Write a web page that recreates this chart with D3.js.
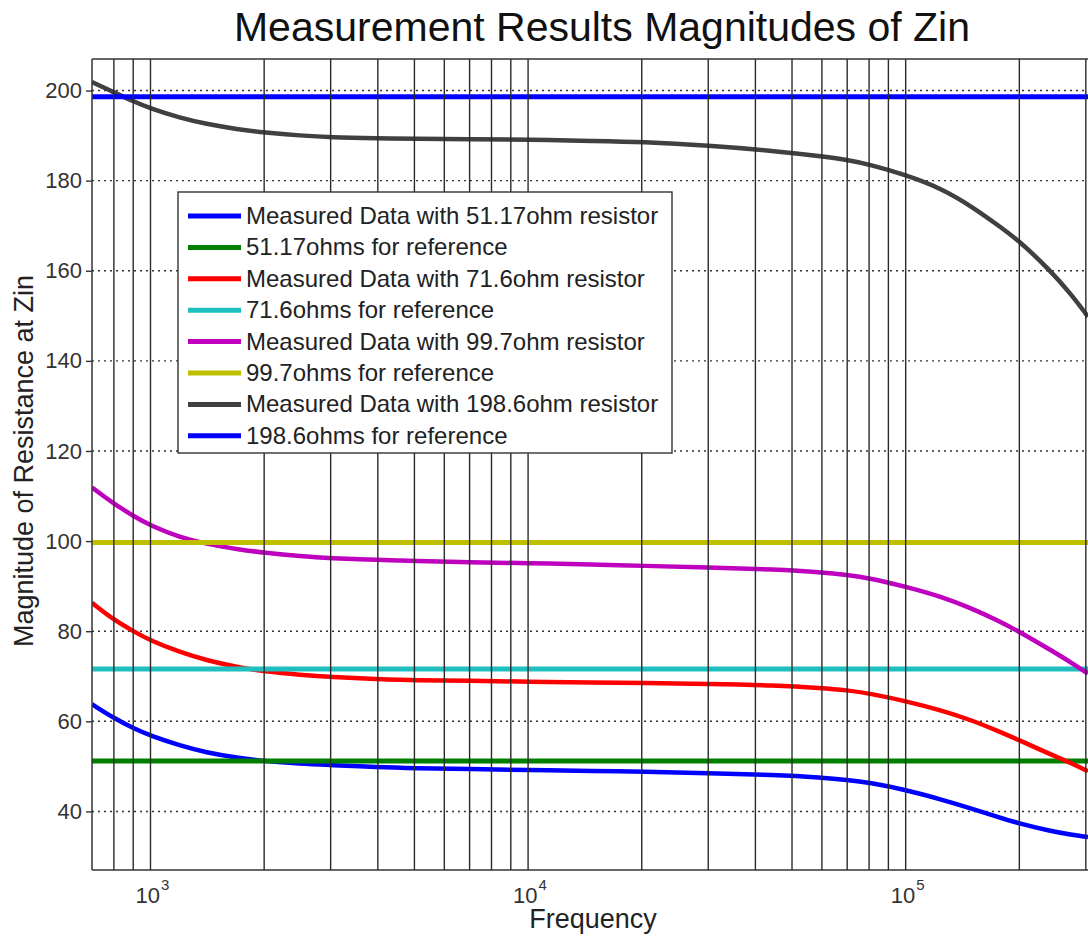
<!DOCTYPE html>
<html>
<head>
<meta charset="utf-8">
<script src="https://cdn.jsdelivr.net/npm/d3@7"></script>
<style>
  html, body { margin: 0; padding: 0; background: #fff; }
  svg { display: block; font-family: "Liberation Sans", Arial, sans-serif; }
</style>
</head>
<body>
<svg id="chart" width="1088" height="940"></svg>
<script>
// Frequency sweep points (Hz)
const frequencies = [700, 800, 900, 1000, 1200, 1400, 1700, 2000, 2500, 3000, 4000, 5000, 7000,
  10000, 15000, 20000, 30000, 45000, 60000, 70000, 80000, 100000, 125000, 150000, 175000,
  200000, 240000, 275000, 304000];

// |Zin| measured with each load resistor (ohms)
const zin51 = [63.8, 60.7, 58.5, 56.8, 54.6, 53.1, 51.9, 51.2, 50.6, 50.3, 49.8, 49.6, 49.4,
  49.2, 49.0, 48.8, 48.5, 48.1, 47.5, 47.0, 46.4, 44.8, 42.6, 40.6, 38.8, 37.3, 35.7, 34.8, 34.3];
const zin71 = [86.3, 82.5, 80.0, 77.9, 75.3, 73.6, 72.0, 71.1, 70.3, 69.8, 69.4, 69.1, 69.0,
  68.8, 68.6, 68.5, 68.3, 68.0, 67.4, 66.9, 66.2, 64.5, 62.4, 60.2, 57.9, 55.8, 52.8, 50.7, 48.9];
const zin99 = [111.9, 108.3, 105.6, 103.4, 100.8, 99.4, 98.2, 97.4, 96.6, 96.2, 95.8, 95.6, 95.3,
  95.1, 94.8, 94.5, 94.2, 93.7, 93.1, 92.5, 91.8, 89.9, 87.6, 85.0, 82.4, 79.9, 76.0, 73.0, 70.6];
const zin198 = [201.9, 199.6, 197.6, 196.0, 193.9, 192.6, 191.4, 190.7, 190.0, 189.6, 189.4, 189.3, 189.2,
  189.1, 188.8, 188.6, 187.8, 186.6, 185.4, 184.6, 183.6, 181.3, 178.2, 174.2, 170.2, 166.6, 160.3, 154.7, 149.8];

// Nominal resistor values
const referenceValues = [51.17, 71.6, 99.7, 198.6];

const seriesLabels = [
  "Measured Data with 51.17ohm resistor",
  "51.17ohms for reference",
  "Measured Data with 71.6ohm resistor",
  "71.6ohms for reference",
  "Measured Data with 99.7ohm resistor",
  "99.7ohms for reference",
  "Measured Data with 198.6ohm resistor",
  "198.6ohms for reference"
];
const seriesColors = ["#0000ff", "#007f00", "#ff0000", "#1fbfbf", "#bf00bf", "#bfbf00", "#404040", "#0000ff"];

const yTicks = [40, 60, 80, 100, 120, 140, 160, 180, 200];
const xMajorTicks = [1e3, 1e4, 1e5];
const xMajorExponents = ["3", "4", "5"];
const xDomain = [700, 304000];
const yDomain = [27, 207];

// Series in drawing order: each measured curve followed by its reference line
const series = [
  { values: zin51 }, { ref: referenceValues[0] },
  { values: zin71 }, { ref: referenceValues[1] },
  { values: zin99 }, { ref: referenceValues[2] },
  { values: zin198 }, { ref: referenceValues[3] }
].map((s, i) => ({
  ...s,
  label: seriesLabels[i],
  color: seriesColors[i],
  points: s.values
    ? frequencies.map((f, j) => [f, s.values[j]])
    : xDomain.map(f => [f, s.ref])
}));

const svg = d3.select("#chart");
const plot = { left: 92, right: 1088, top: 59, bottom: 870 };

const x = d3.scaleLog().domain(xDomain).range([plot.left, plot.right]);
const y = d3.scaleLinear().domain(yDomain).range([plot.bottom, plot.top]);

svg.append("defs").append("clipPath").attr("id", "plot-clip")
  .append("rect")
  .attr("x", plot.left).attr("y", plot.top)
  .attr("width", plot.right - plot.left).attr("height", plot.bottom - plot.top);

// Dotted horizontal grid at each y tick
svg.append("g")
  .selectAll("line")
  .data(yTicks)
  .join("line")
  .attr("x1", plot.left).attr("x2", plot.right)
  .attr("y1", d => y(d)).attr("y2", d => y(d))
  .attr("stroke", "#333")
  .attr("stroke-width", 1.4)
  .attr("stroke-dasharray", "2,4");

// Data and reference lines
const line = d3.line()
  .x(d => x(d[0]))
  .y(d => y(d[1]))
  .curve(d3.curveBasis);

svg.append("g")
  .attr("clip-path", "url(#plot-clip)")
  .selectAll("path")
  .data(series)
  .join("path")
  .attr("d", d => line(d.points))
  .attr("fill", "none")
  .attr("stroke", d => d.color)
  .attr("stroke-width", d => d.values ? 4.5 : 5)
  .attr("stroke-linejoin", "round");

// Solid vertical grid at every decade subdivision
const xGrid = x.ticks().filter(t => t > xDomain[0] && t <= xDomain[1]);
svg.append("g")
  .selectAll("line")
  .data(xGrid)
  .join("line")
  .attr("x1", d => x(d)).attr("x2", d => x(d))
  .attr("y1", plot.top).attr("y2", plot.bottom)
  .attr("stroke", "#2a2a2a")
  .attr("stroke-width", 1.4);

// Axes frame
const frame = svg.append("g").attr("stroke", "#333").attr("stroke-width", 1.5);
frame.append("line").attr("x1", plot.left).attr("x2", plot.left).attr("y1", plot.top).attr("y2", plot.bottom);
frame.append("line").attr("x1", plot.left).attr("x2", plot.right).attr("y1", plot.top).attr("y2", plot.top);
frame.append("line").attr("x1", plot.left).attr("x2", plot.right).attr("y1", plot.bottom).attr("y2", plot.bottom);

// Y axis
const yAxis = svg.append("g")
  .attr("transform", `translate(${plot.left},0)`)
  .call(d3.axisLeft(y).tickValues(yTicks).tickSize(6).tickPadding(4));
yAxis.select(".domain").remove();
yAxis.selectAll(".tick line").attr("stroke", "#333").attr("stroke-width", 1.4);
yAxis.selectAll(".tick text")
  .attr("fill", "#333")
  .style("font-size", "22px")
  .style("font-family", "'Liberation Sans', Arial, sans-serif");

// X axis: powers of ten
const xLabels = svg.append("g")
  .selectAll("text")
  .data(xMajorTicks)
  .join("text")
  .attr("x", d => x(d) - 15)
  .attr("y", 903)
  .attr("fill", "#333")
  .style("font-size", "22px");
xLabels.append("tspan").text("10");
xLabels.append("tspan")
  .attr("dy", -13)
  .attr("dx", 1)
  .style("font-size", "15px")
  .text((d, i) => xMajorExponents[i]);

// Axis titles
svg.append("text")
  .attr("x", 593).attr("y", 928)
  .attr("text-anchor", "middle")
  .attr("fill", "#222")
  .style("font-size", "27px")
  .text("Frequency");

svg.append("text")
  .attr("transform", "translate(33,461) rotate(-90)")
  .attr("text-anchor", "middle")
  .attr("fill", "#222")
  .style("font-size", "27px")
  .text("Magnitude of Resistance at Zin");

// Chart title
svg.append("text")
  .attr("x", 602).attr("y", 41)
  .attr("text-anchor", "middle")
  .attr("fill", "#111")
  .style("font-size", "41px")
  .text("Measurement Results Magnitudes of Zin");

// Legend
const legend = svg.append("g").attr("transform", "translate(178,192)");
legend.append("rect")
  .attr("width", 494).attr("height", 261)
  .attr("fill", "#fff")
  .attr("stroke", "#333")
  .attr("stroke-width", 1.4);

const rowH = 31.4;
const rows = legend.selectAll("g.row")
  .data(series)
  .join("g")
  .attr("class", "row")
  .attr("transform", (d, i) => `translate(0,${24 + i * rowH})`);
rows.append("line")
  .attr("x1", 10).attr("x2", 63)
  .attr("stroke", d => d.color)
  .attr("stroke-width", 5);
rows.append("text")
  .attr("x", 68).attr("y", 8)
  .attr("fill", "#222")
  .style("font-size", "24px")
  .text(d => d.label);
</script>
</body>
</html>
